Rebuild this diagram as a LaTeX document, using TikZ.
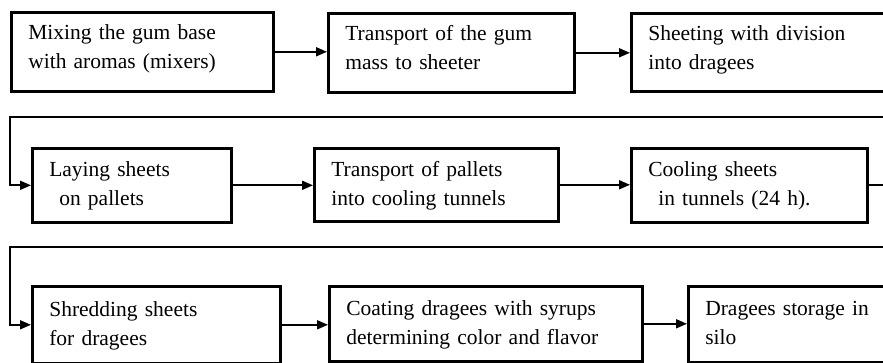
\documentclass[tikz,border=0pt]{standalone}
\usepackage{fontspec}
\setmainfont{Liberation Serif}
\usetikzlibrary{arrows.meta}

\begin{document}
\begin{tikzpicture}[x=1pt, y=-1pt, >={Triangle[length=11pt, width=9pt]},
    font=\fontsize{21.5}{29}\selectfont,
    stage/.style={draw, line width=2.6pt, anchor=north west, align=left,
        inner xsep=17pt, inner ysep=0pt,
        execute at begin node=\strut, execute at end node=\strut},
    toprow/.style={text depth=44.5pt},
    flow/.style={->, line width=1.8pt}]

    % --- 1. Frame (the picture is cut at its edges) ---
    \clip (0,0) rectangle (883,363);

    % --- 2. Process stages, row by row ---
    % row 1
    \node[stage, toprow, text width=228pt, minimum height=79pt] (mix) at (10,11)
        {Mixing the gum base\\with aromas (mixers)};
    \node[stage, toprow, text width=212pt, minimum height=79pt] (transp) at (327,12)
        {Transport of the gum\\mass to sheeter};
    \node[stage, toprow, text width=222pt, minimum height=78pt] (sheet) at (630,12)
        {Sheeting with division\\into dragees};

    % row 2
    \node[stage, text width=165pt, minimum height=74pt] (lay) at (31,147)
        {Laying sheets\\\hspace*{10pt}on pallets};
    \node[stage, text width=210pt, minimum height=73pt] (pallets) at (313,147)
        {Transport of pallets\\into cooling tunnels};
    \node[stage, text width=202pt, minimum height=74pt] (cool) at (630,147)
        {Cooling sheets\\\hspace*{10pt}in tunnels (24 h).};

    % row 3
    \node[stage, text width=214pt, minimum height=77pt] (shred) at (31,285)
        {Shredding sheets\\for dragees};
    \node[stage, text width=279pt, minimum height=75pt] (coat) at (328,285)
        {Coating dragees with syrups\\determining color and flavor};
    \node[stage, text width=230pt, minimum height=76pt] (silo) at (687,285)
        {Dragees storage in\\silo};

    % --- 3. Turning points of the return lines ---
    \coordinate (back1) at (10,117); % row 1 -> row 2
    \coordinate (back2) at (10,247); % row 2 -> row 3

    % --- 4. Connectors ---
    \draw[flow] (mix.east) -- (transp.west |- mix.east);
    \draw[flow] (transp.east) -- (sheet.west |- transp.east);
    \draw[flow] (sheet.east) -- ++(12,0) |- (back1) |- (lay.west);

    \draw[flow] (lay.east) -- (pallets.west |- lay.east);
    \draw[flow] (pallets.east) -- (cool.west |- pallets.east);
    \draw[flow] (cool.east) -- ++(30,0) |- (back2) |- (shred.west);

    \draw[flow] (shred.east) -- (coat.west |- shred.east);
    \draw[flow] (coat.east) -- (silo.west |- coat.east);

\end{tikzpicture}
\end{document}
